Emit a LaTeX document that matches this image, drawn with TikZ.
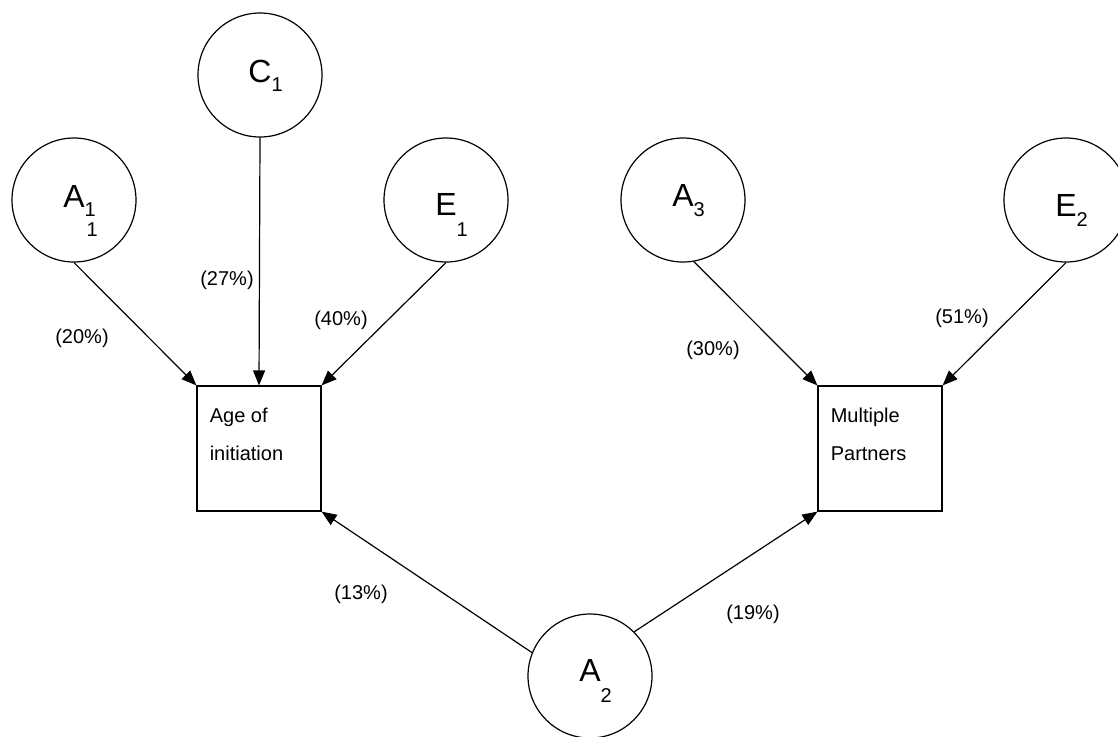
\documentclass[tikz,border=0pt]{standalone}
\usepackage{fontspec}
\setmainfont{Liberation Sans}
\usetikzlibrary{arrows.meta}
\newcommand{\sizelatent}{62pt}
\newcommand{\widthobs}{62pt}
\newcommand{\heightobs}{62.5pt}
\newcommand{\subsize}{\fontsize{10}{12}\selectfont}
% letter with a dropped index that takes no room
\newcommand{\latvar}[3]{#1\rlap{\smash{\raisebox{-#3}{\subsize #2}}}}
\tikzset{
    latent/.style={draw, circle, line width=0.6pt, minimum size=\sizelatent, inner sep=0pt, font=\fontsize{16}{19}\selectfont},
    obs/.style={draw, rectangle, line width=0.6pt, minimum width=\widthobs, minimum height=\heightobs, inner sep=0pt},
    obstext/.style={anchor=north west, align=left, inner sep=0pt, xshift=6.5pt, yshift=-11.25pt, font=\fontsize{10}{19}\selectfont},
    pct/.style={inner sep=0pt, font=\fontsize{10}{12}\selectfont},
    effect/.style={-{Triangle[length=7.5pt, width=6pt]}, line width=0.6pt}
}
\begin{document}
\begin{tikzpicture}[x=0.5pt, y=-0.5pt]
        \useasboundingbox (0,0) rectangle (1118,736);

        \node[latent, text depth=4pt] (A1) at (74,200) {\latvar{A}{1}{4.5pt}\rlap{\smash{\hspace{1pt}\raisebox{-14.5pt}{\subsize 1}}}};
        \node[latent, text depth=3.5pt] (C1) at (260,75) {\latvar{C}{1}{4.5pt}};
        \node[latent, text height=15.5pt] (E1) at (446,200) {\latvar{E}{1}{10.5pt}};
        \node[latent, text depth=5pt] (A3) at (683,200) {\latvar{A}{3}{5pt}};
        \node[latent, text height=16.5pt] (E2) at (1066,200) {\latvar{E}{2}{5pt}};
        \node[latent, text depth=5.5pt] (A2) at (590,676) {\latvar{A}{2}{10.5pt}};

        \node[obs, label={[obstext]north west:{Age of\\initiation}}] (age) at (259,448.5) {};
        \node[obs, label={[obstext]north west:{Multiple\\Partners}}] (multi) at (880,448.5) {};

        \draw[effect] (A1.south) -- (age.north west);
        \draw[effect] (C1.south) -- (age.north);
        \draw[effect] (E1.south) -- (age.north east);
        \draw[effect] (A3.-80) -- (multi.north west);
        \draw[effect] (E2.south) -- (multi.north east);
        \draw[effect] (A2.158) -- (age.south east);
        \draw[effect] (A2.45) -- (multi.south west);

        \node[pct] (p20) at (82,338) {(20\%)};
        \node[pct] (p27) at (227,280) {(27\%)};
        \node[pct] (p40) at (341,320) {(40\%)};
        \node[pct] (p30) at (713,350) {(30\%)};
        \node[pct] (p51) at (962,318) {(51\%)};
        \node[pct] (p13) at (361,594) {(13\%)};
        \node[pct] (p19) at (753,614) {(19\%)};
    \end{tikzpicture}
\end{document}
